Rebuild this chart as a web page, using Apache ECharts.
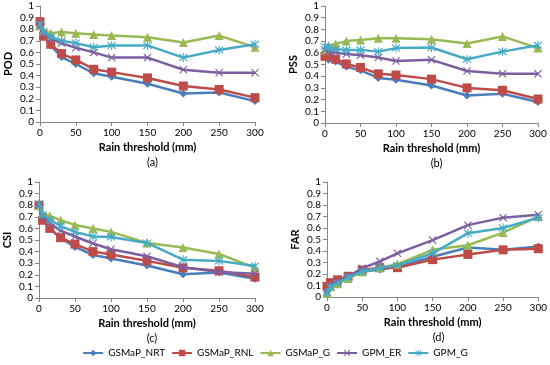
<!DOCTYPE html>
<html><head><meta charset="utf-8">
<script src="https://cdn.jsdelivr.net/npm/echarts@6/dist/echarts.min.js"></script>
<style>html,body{margin:0;padding:0;background:#fff}#c{width:550px;height:365px}</style>
</head><body><div id="c"></div>
<script>
var thresholds = [0, 5, 15, 30, 50, 75, 100, 150, 200, 250, 300];
var seriesNames = ['GSMaP_NRT', 'GSMaP_RNL', 'GSMaP_G', 'GPM_ER', 'GPM_G'];
var yTicks = [0, 0.1, 0.2, 0.3, 0.4, 0.5, 0.6, 0.7, 0.8, 0.9, 1];
var xTicks = [0, 50, 100, 150, 200, 250, 300];
var panelTitles = ['POD', 'PSS', 'CSI', 'FAR'];
var panelLabels = ['(a)', '(b)', '(c)', '(d)'];

var podNRT = [0.84, 0.74, 0.66, 0.56, 0.50, 0.42, 0.39, 0.33, 0.245, 0.255, 0.18];
var podRNL = [0.865, 0.74, 0.67, 0.59, 0.535, 0.455, 0.43, 0.38, 0.31, 0.28, 0.21];
var podG   = [0.83, 0.79, 0.765, 0.775, 0.765, 0.755, 0.745, 0.73, 0.685, 0.745, 0.645];
var podER  = [0.83, 0.76, 0.72, 0.68, 0.64, 0.60, 0.555, 0.555, 0.45, 0.425, 0.425];
var podGG  = [0.845, 0.78, 0.735, 0.70, 0.68, 0.645, 0.66, 0.66, 0.555, 0.62, 0.67];

var pssNRT = [0.57, 0.54, 0.525, 0.48, 0.45, 0.385, 0.37, 0.32, 0.235, 0.25, 0.18];
var pssRNL = [0.57, 0.575, 0.545, 0.505, 0.475, 0.42, 0.41, 0.375, 0.30, 0.28, 0.205];
var pssG   = [0.625, 0.66, 0.675, 0.70, 0.71, 0.725, 0.725, 0.715, 0.68, 0.74, 0.64];
var pssER  = [0.625, 0.61, 0.60, 0.59, 0.58, 0.56, 0.53, 0.54, 0.445, 0.42, 0.42];
var pssGG  = [0.655, 0.645, 0.63, 0.625, 0.625, 0.61, 0.64, 0.645, 0.545, 0.61, 0.665];

var csiNRT = [0.80, 0.69, 0.60, 0.515, 0.44, 0.37, 0.34, 0.28, 0.205, 0.22, 0.165];
var csiRNL = [0.80, 0.67, 0.60, 0.52, 0.465, 0.40, 0.375, 0.32, 0.26, 0.235, 0.18];
var csiG   = [0.795, 0.73, 0.71, 0.67, 0.63, 0.60, 0.57, 0.475, 0.435, 0.38, 0.26];
var csiER  = [0.80, 0.70, 0.645, 0.58, 0.53, 0.47, 0.42, 0.36, 0.265, 0.225, 0.21];
var csiGG  = [0.81, 0.72, 0.675, 0.62, 0.57, 0.53, 0.525, 0.475, 0.33, 0.32, 0.275];

var farNRT = [0.045, 0.10, 0.14, 0.17, 0.22, 0.24, 0.26, 0.35, 0.43, 0.41, 0.44];
var farRNL = [0.093, 0.125, 0.15, 0.18, 0.235, 0.255, 0.255, 0.325, 0.37, 0.41, 0.42];
var farG   = [0.03, 0.09, 0.115, 0.16, 0.22, 0.255, 0.285, 0.41, 0.45, 0.56, 0.70];
var farER  = [0.045, 0.095, 0.135, 0.18, 0.25, 0.31, 0.38, 0.495, 0.625, 0.69, 0.715];
var farGG  = [0.035, 0.09, 0.12, 0.17, 0.22, 0.255, 0.275, 0.38, 0.555, 0.60, 0.69];

var panelData = [
  [podNRT, podRNL, podG, podER, podGG],
  [pssNRT, pssRNL, pssG, pssER, pssGG],
  [csiNRT, csiRNL, csiG, csiER, csiGG],
  [farNRT, farRNL, farG, farER, farGG]
];

var colors = ['#4A7EBB', '#BE4B48', '#98B954', '#7D5FA0', '#46AAC5'];
var xPath = 'path://M0,1L1,0L5,4L9,0L10,1L6,5L10,9L9,10L5,6L1,10L0,9L4,5Z';
var starPath = 'path://M0,1L1,0L5,4L9,0L10,1L6,5L10,9L9,10L5,6L1,10L0,9L4,5ZM4.4,-1L5.6,-1L5.6,11L4.4,11Z';
var symbols = ['diamond', 'rect', 'triangle', xPath, starPath];
var symSizes = [8, 9, 9, 8, 9];

var grids = [
  {left: 40, top: 6, width: 215, height: 116},
  {left: 325, top: 6, width: 213, height: 117},
  {left: 39, top: 182, width: 216, height: 116},
  {left: 327, top: 182, width: 213, height: 115}
];
var font = 'Lato, "Open Sans", sans-serif';
var axisColor = '#868686';

var xAxes = [], yAxes = [], series = [], titles = [];
grids.forEach(function (g, i) {
  xAxes.push({
    type: 'value', gridIndex: i, min: 0, max: 300, interval: 50,
    name: 'Rain threshold (mm)', nameLocation: 'middle', nameGap: 20,
    nameTextStyle: {fontFamily: font, fontWeight: 'bold', fontSize: 11, color: '#000'},
    axisLine: {show: true, lineStyle: {color: axisColor}},
    axisTick: {show: true, length: 4, lineStyle: {color: axisColor}},
    axisLabel: {fontFamily: font, fontSize: 10, color: '#000', margin: 6},
    splitLine: {show: false}
  });
  yAxes.push({
    type: 'value', gridIndex: i, min: 0, max: 1, interval: 0.1,
    name: panelTitles[i], nameLocation: 'middle', nameGap: 26, nameRotate: 90,
    nameTextStyle: {fontFamily: font, fontWeight: 'bold', fontSize: 11, color: '#000'},
    axisLine: {show: true, lineStyle: {color: axisColor}},
    axisTick: {show: true, length: 4, lineStyle: {color: axisColor}},
    axisLabel: {fontFamily: font, fontSize: 10, color: '#000', margin: 6,
      formatter: function (v) { return String(Math.round(v * 10) / 10); }},
    splitLine: {show: false}
  });
  titles.push({
    text: panelLabels[i], left: g.left + g.width / 2, top: g.top + g.height + 30,
    textAlign: 'center',
    textStyle: {fontFamily: font, fontWeight: 'normal', fontSize: 11, color: '#000'}
  });
  panelData[i].forEach(function (vals, s) {
    series.push({
      name: seriesNames[s], type: 'line', xAxisIndex: i, yAxisIndex: i,
      data: thresholds.map(function (t, k) { return [t, vals[k]]; }),
      symbol: symbols[s], symbolSize: symSizes[s], showAllSymbol: true,
      lineStyle: {color: colors[s], width: 2.5},
      itemStyle: {color: colors[s]},
      animation: false, z: 2 + s
    });
  });
});

var chart = echarts.init(document.getElementById('c'));
chart.setOption({
  animation: false,
  backgroundColor: '#fff',
  title: titles,
  grid: grids,
  xAxis: xAxes,
  yAxis: yAxes,
  series: series,
  legend: {
    data: seriesNames, bottom: 2, left: 'center', itemWidth: 20, itemHeight: 8, itemGap: 6,
    textStyle: {fontFamily: font, fontSize: 10, color: '#000'}
  }
});
</script></body></html>
